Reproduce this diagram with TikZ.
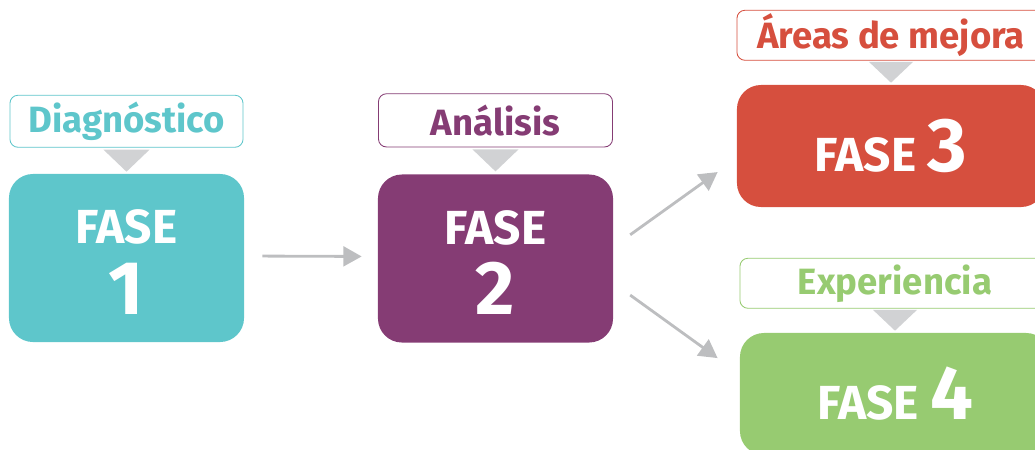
\documentclass[tikz,border=0pt]{standalone}
\usepackage{fontspec}
\setmainfont{Fira Sans}
\usetikzlibrary{positioning, arrows.meta}
\definecolor{fcyan}{HTML}{5EC6CB}
\definecolor{fpurple}{HTML}{853C74}
\definecolor{fred}{HTML}{D64F3E}
\definecolor{fgreen}{HTML}{97CB71}
\definecolor{tgray}{HTML}{D1D2D4}
\definecolor{agray}{HTML}{BDBEC0}
\tikzstyle{phase} = [rectangle, rounded corners=0.6cm, text=white, align=center,
  font=\bfseries\fontsize{34}{50}\selectfont, inner sep=0pt]
\tikzstyle{tag} = [rectangle, draw, rounded corners=0.2cm, fill=white, line width=0.6pt,
  font=\bfseries\fontsize{26}{28}\selectfont, inner sep=0pt]
\tikzstyle{pointer} = [fill=tgray]
\tikzstyle{flow} = [draw=agray, line width=2pt, -{Triangle[length=13pt, width=14pt]}]
\newcommand{\bignum}[1]{{\fontsize{54}{50}\selectfont #1}}

\begin{document}
\begin{tikzpicture}[x=0.025cm, y=-0.025cm]
\clip (0,0) rectangle (1035,449);
\node[phase, fill=fcyan, minimum width=5.875cm, minimum height=4.2cm] (f1) at (126.5,258) {\rule{0pt}{30pt}FASE\\\bignum{1}};
\node[phase, fill=fpurple, minimum width=5.875cm, minimum height=4.2cm] (f2) at (495.5,258.5) {\rule{0pt}{30pt}FASE\\\bignum{2}};
\node[phase, fill=fred, minimum width=7.7cm, minimum height=3.05cm] (f3) at (891,146) {FASE \bignum{3}};
\node[phase, fill=fgreen, minimum width=7.75cm, minimum height=3.05cm] (f4) at (895,394) {FASE \bignum{4}};
% etiquetas
\node[tag, draw=fcyan, text=fcyan, minimum width=5.825cm, minimum height=1.3cm, above=0.65cm of f1] (t1) {Diagnóstico};
\node[tag, draw=fpurple, text=fpurple, minimum width=5.85cm, minimum height=1.33cm, above=0.67cm of f2] (t2) {Análisis};
\node[tag, draw=fred, text=fred, minimum width=7.7cm, minimum height=1.25cm, above=0.6cm of f3] (t3) {Áreas de mejora};
\node[tag, draw=fgreen, text=fgreen, minimum width=7.75cm, minimum height=1.25cm, above=0.6cm of f4] (t4) {Experiencia};
\fill[pointer] ([yshift=-0.05cm]t1.south) ++(-0.575cm,0) -- ++(1.15cm,0) -- ++(-0.575cm,-0.55cm) -- cycle;
\fill[pointer] ([yshift=-0.05cm]t2.south) ++(-0.575cm,0) -- ++(1.15cm,0) -- ++(-0.575cm,-0.55cm) -- cycle;
\fill[pointer] ([yshift=-0.03cm]t3.south) ++(-0.55cm,0) -- ++(1.1cm,0) -- ++(-0.55cm,-0.52cm) -- cycle;
\fill[pointer] ([yshift=-0.03cm]t4.south) ++(-0.55cm,0) -- ++(1.1cm,0) -- ++(-0.55cm,-0.52cm) -- cycle;
% flechas
\draw[flow, shorten <=0.45cm, shorten >=0.4cm] ([yshift=0.05cm]f1.east) -- ([yshift=0.05cm]f2.west);
\draw[flow, shorten <=0.52cm, shorten >=0.585cm] ([yshift=0.29cm]f2.east) -- ([yshift=-0.31cm]f3.west);
\draw[flow, shorten <=0.52cm, shorten >=0.68cm] ([yshift=-0.61cm]f2.east) -- ([yshift=0.5cm]f4.west);
\end{tikzpicture}
\end{document}
